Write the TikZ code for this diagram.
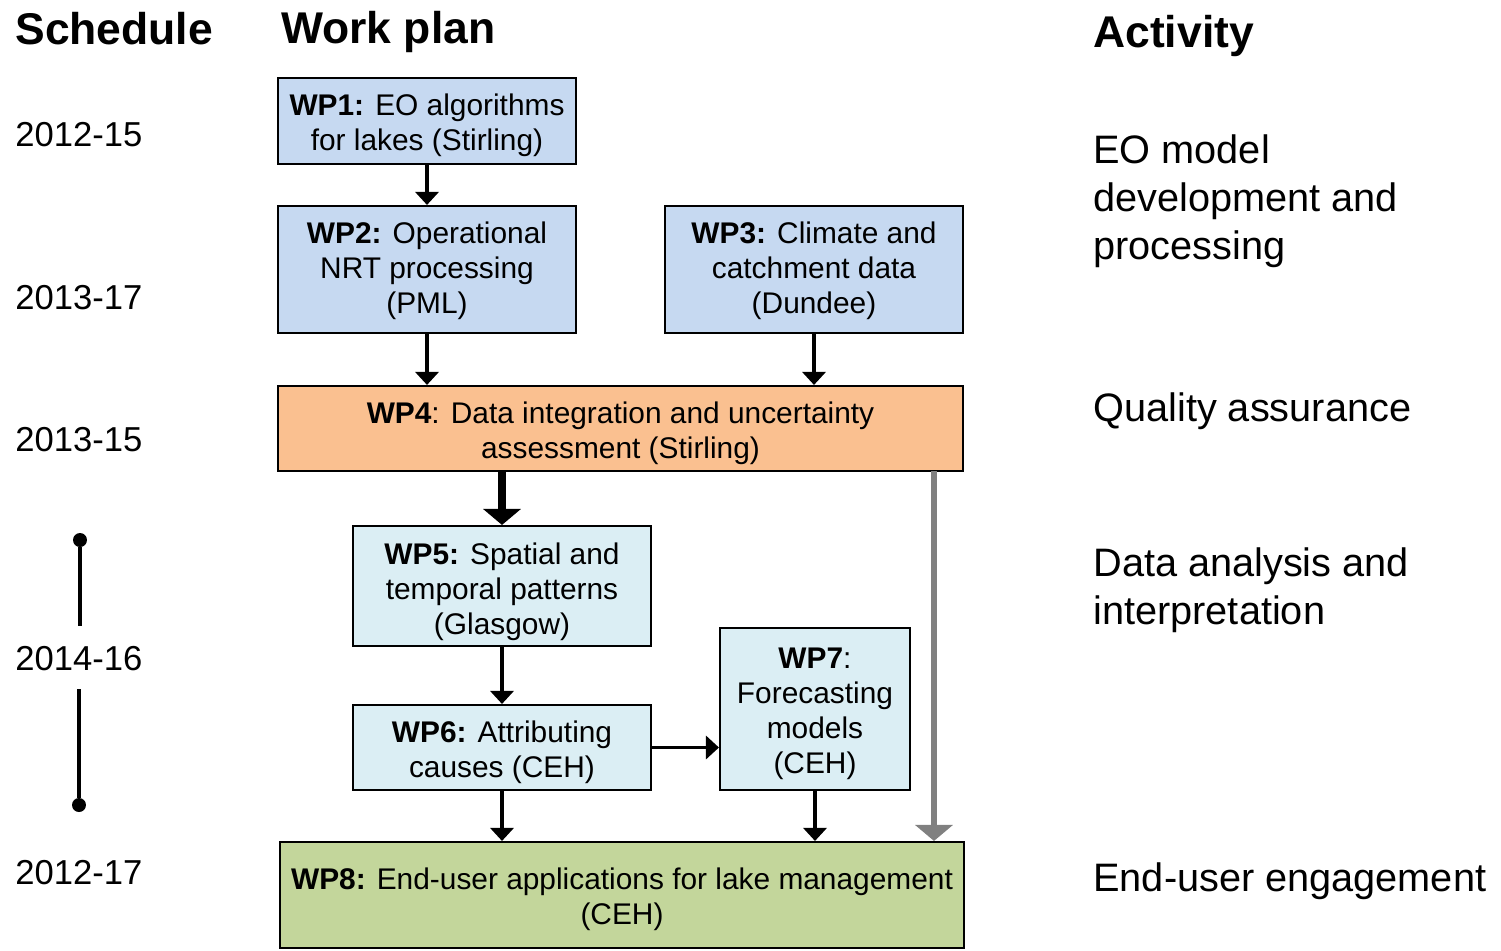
\documentclass[tikz,border=0pt]{standalone}
\usepackage{fontspec}
\setmainfont{Liberation Sans}
\usetikzlibrary{arrows.meta}

\definecolor{wpblue}{RGB}{198,217,241}
\definecolor{wporange}{RGB}{250,192,144}
\definecolor{wplight}{RGB}{219,238,244}
\definecolor{wpgreen}{RGB}{195,214,155}

% a taller first line pushes the box text down a little
\newcommand{\wplift}[1][17.6pt]{\rule{0pt}{#1}}

\begin{document}
\begin{tikzpicture}[x=0.02cm,y=-0.02cm]

\tikzset{wp/.style = {shape=rectangle,draw,line width=1.2pt,inner sep=0pt,align=center,
  font=\fontsize{17pt}{19.9pt}\selectfont}}
\tikzset{head/.style = {anchor=base west,inner sep=0pt,font=\fontsize{25.3pt}{30pt}\selectfont\bfseries}}
\tikzset{year/.style = {anchor=west,inner sep=0pt,font=\fontsize{19.7pt}{23pt}\selectfont}}
\tikzset{act/.style = {anchor=west,inner sep=0pt,align=left,font=\fontsize{22.6pt}{27.3pt}\selectfont}}
\tikzset{edge/.style = {-{Triangle[width=0.46cm,length=0.26cm]},line width=2.2pt}}
\tikzset{bigedge/.style = {-{Triangle[width=0.74cm,length=0.32cm]},line width=4pt}}
\tikzset{dot/.style = {shape=circle,fill=black,inner sep=0pt,minimum size=0.28cm}}

\useasboundingbox (0,0) rectangle (1501,950);

% headings
\node[head] (sched) at (15,44) {Schedule};
\node[head] (plan) at (281,43) {Work plan};
\node[head] (activity) at (1093,48) {Activity};

% years
\node[year] (y1) at (15,135) {2012-15};
\node[year] (y2) at (15,298) {2013-17};
\node[year] (y3) at (15,440) {2013-15};
\node[year] (y4) at (15,659) {2014-16};
\node[year] (y5) at (15,873) {2012-17};

% timeline
\node[dot] (t1) at (80,540) {};
\node[dot] (t2) at (79,805) {};
\coordinate (g1) at (80,626);
\coordinate (g2) at (79,689);
\draw[line width=2.3pt] (t1) -- (g1);
\draw[line width=2.3pt] (g2) -- (t2);

% work packages (sizes in cm, 1px = 0.02cm)
\node[wp,fill=wpblue,minimum width=5.96cm,minimum height=1.72cm] (wp1) at (427,121)
  {\wplift\textbf{WP1:} EO algorithms\\for lakes (Stirling)};
\node[wp,fill=wpblue,minimum width=5.96cm,minimum height=2.54cm] (wp2) at (427,269.5)
  {\wplift[13.4pt]\textbf{WP2:} Operational\\NRT processing\\(PML)};
\node[wp,fill=wpblue,minimum width=5.96cm,minimum height=2.54cm] (wp3) at (814,269.5)
  {\wplift[13.4pt]\textbf{WP3:} Climate and\\catchment data\\(Dundee)};
\node[wp,fill=wporange,minimum width=13.7cm,minimum height=1.7cm] (wp4) at (620.5,428.5)
  {\wplift\textbf{WP4}: Data integration and uncertainty\\assessment (Stirling)};
\node[wp,fill=wplight,minimum width=5.96cm,minimum height=2.4cm] (wp5) at (502,586)
  {\wplift[18.5pt]\textbf{WP5:} Spatial and\\temporal patterns\\(Glasgow)};
\node[wp,fill=wplight,minimum width=5.96cm,minimum height=1.7cm] (wp6) at (502,747.5)
  {\wplift\textbf{WP6:} Attributing\\causes (CEH)};
\node[wp,fill=wplight,minimum width=3.8cm,minimum height=3.24cm] (wp7) at (815,709)
  {\wplift\textbf{WP7}:\\Forecasting\\models\\(CEH)};
\node[wp,fill=wpgreen,minimum width=13.68cm,minimum height=2.12cm] (wp8) at (622,895)
  {\wplift\textbf{WP8:} End-user applications for lake management\\(CEH)};

% activities
\node[act] (a1) at (1093,201) {EO model\\development and\\processing};
\node[act] (a2) at (1093,411) {Quality assurance};
\node[act] (a3) at (1093,590) {Data analysis and\\interpretation};
\node[act] (a4) at (1093,881) {End-user engagement};

% edges
\draw[edge] (wp1) to (wp2);
\draw[edge] (wp2.south) to (wp2.south |- wp4.north);
\draw[edge] (wp3.south) to (wp3.south |- wp4.north);
\draw[bigedge] (wp5.north |- wp4.south) to (wp5.north);
\draw[edge] (wp5) to (wp6);
\draw[edge] (wp6.east) to (wp6.east -| wp7.west);
\draw[edge] (wp6.south) to (wp6.south |- wp8.north);
\draw[edge] (wp7.south) to (wp7.south |- wp8.north);
\coordinate (qa) at (934,471);
\draw[bigedge,draw=gray,fill=gray,line width=3.6pt] (qa) to (qa |- wp8.north);
\end{tikzpicture}
\end{document}
